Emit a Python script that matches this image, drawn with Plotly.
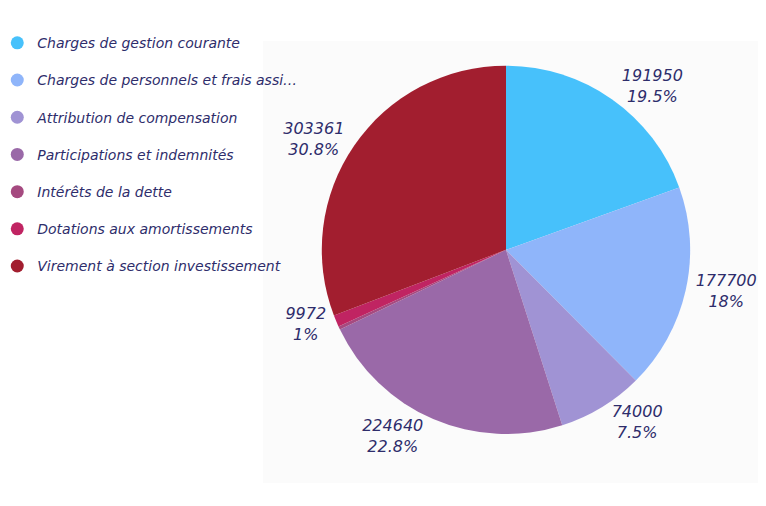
import plotly.graph_objects as go

categories = [
    "Charges de gestion courante",
    "Charges de personnels et frais assi…",
    "Attribution de compensation",
    "Participations et indemnités",
    "Intérêts de la dette",
    "Dotations aux amortissements",
    "Virement à section investissement",
]
values = [191950, 177700, 74000, 224640, 3000, 9972, 303361]
label_text = ["191950<br>19.5%", "177700<br>18%", "74000<br>7.5%", "224640<br>22.8%", "", "9972<br>1%", "303361<br>30.8%"]
colors = ["#47C1FB", "#8FB5FA", "#A093D4", "#9A69A8", "#A54A80", "#C02462", "#A21E2F"]

TXT = "#2E2D6B"
FONT = "DejaVu Sans"

fig = go.Figure()
fig.add_trace(go.Pie(
    labels=categories, values=values, text=label_text,
    textinfo="text", textposition="outside", sort=False, direction="clockwise", rotation=0,
    marker=dict(colors=colors, line=dict(width=0)),
    textfont=dict(family=FONT, size=16, color=TXT, style="italic"),
    showlegend=False, hoverinfo="label+value+percent",
    domain=dict(x=[0.4096, 0.8906], y=[0.158, 0.886]),
))
for i, (c, col) in enumerate(zip(categories, colors)):
    fig.add_trace(go.Scatter(
        x=[None], y=[None], mode="markers", name=c, legendgroup=str(i),
        marker=dict(symbol="circle", size=13, color=col),
    ))

fig.update_layout(
    width=766, height=506,
    margin=dict(l=0, r=0, t=0, b=0, autoexpand=False),
    paper_bgcolor="white", plot_bgcolor="white",
    xaxis=dict(visible=False), yaxis=dict(visible=False),
    showlegend=True,
    legend=dict(x=-0.014, y=0.962, xanchor="left", yanchor="top",
                font=dict(family=FONT, size=14, color=TXT, style="italic"),
                tracegroupgap=16, itemwidth=30, bgcolor="rgba(0,0,0,0)"),
    shapes=[dict(type="rect", xref="paper", yref="paper", x0=255/766, x1=760/766,
                 y0=1-475/506, y1=1-33/506, fillcolor="#fbfbfb", line=dict(width=0), layer="below")],
)
fig.write_html("out.html")
